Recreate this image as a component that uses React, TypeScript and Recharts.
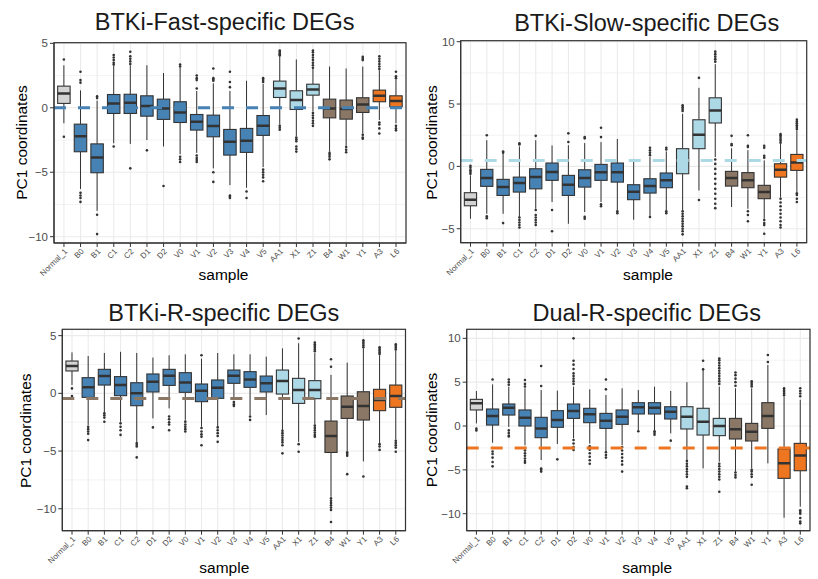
import React from 'react';
import { ComposedChart, Bar, XAxis, YAxis, CartesianGrid, ReferenceLine } from 'recharts';

// ---------- categories ----------
const samples = ['Normal_1', 'B0', 'B1', 'C1', 'C2', 'D1', 'D2', 'V0', 'V1', 'V2', 'V3', 'V4', 'V5', 'AA1', 'X1', 'Z1', 'B4', 'W1', 'Y1', 'A3', 'L6'];
const groups = ['normal', 'fast', 'fast', 'fast', 'fast', 'fast', 'fast', 'fast', 'fast', 'fast', 'fast', 'fast', 'fast', 'slow', 'slow', 'slow', 'r', 'r', 'r', 'dual', 'dual'];
const groupColors: Record<string, string> = { normal: '#D3D3D3', fast: '#4682B4', slow: '#ADD8E6', r: '#8B7765', dual: '#EE7621' };

// ---------- BTKi-Fast-specific DEGs ----------
const fastLo = [-1.2, -6.3, -8.0, -2.75, -2.8, -2.5, -3.0, -3.6, -3.5, -4.7, -6.0, -6.2, -4.6, -1.3, -2.2, -0.3, -3.4, -2.95, -2.0, -0.95, -1.2];
const fastQ1 = [0.34, -3.41, -5.04, -0.44, -0.44, -0.65, -0.9, -1.14, -1.73, -2.25, -3.67, -3.46, -2.14, 0.8, -0.13, 0.98, -0.78, -0.88, -0.36, 0.47, 0.08];
const fastMed = [1.11, -2.2, -3.85, 0.34, 0.39, 0.13, -0.05, -0.36, -1.09, -1.42, -2.64, -2.56, -1.4, 1.5, 0.6, 1.42, -0.05, -0.1, 0.26, 0.93, 0.52];
const fastQ3 = [1.68, -1.27, -2.8, 1.03, 1.05, 0.93, 0.67, 0.47, -0.52, -0.57, -1.68, -1.6, -0.6, 2.07, 1.32, 1.83, 0.67, 0.6, 0.78, 1.37, 0.93];
const fastHi = [3.3, 1.35, 0.55, 3.25, 3.3, 3.3, 2.7, 3.1, 1.3, 1.9, 1.3, 2.1, 1.85, 3.95, 3.75, 3.0, 3.2, 3.05, 3.2, 2.9, 2.2];
const fastOut = [
  [3.75, -2.25], [2.8, 2.15, 1.95, -6.6, -6.8, -7.0, -7.3], [0.9, 0.75, -8.3, -9.8], [3.35, 3.5, 3.7, 3.9, 4.1, -3.0],
  [3.4, 3.6, 3.8, 4.0, 4.35, -4.7], [-3.3], [-6.07], [3.2, 3.35, -3.8, -4.0, -4.2],
  [1.5, 2.15, 2.3, 2.5, -3.7, -3.9, -4.05, -4.2], [2.1, 2.2, 2.3, 3.05, -5.0, -5.75], [1.6, 2.0, 2.8, -6.8, -6.9, -7.0], [-6.5, -7.0],
  [2.0, 2.15, 2.3, -4.8, -5.0, -5.2, -5.4, -5.7], [4.05, 4.15, 4.25, 4.35, 4.45, -1.4, -1.55, -1.7], [-2.3, -2.45, -2.6, -3.0, -3.2, -3.4],
  [3.1, 3.3, 3.5, 3.7, 3.9, 4.1, 4.3, 4.45, -0.4, -0.6, -0.8, -1.0, -1.2, -1.4], [-3.5, -3.65, -3.8, -4.0], [-3.05, -3.25, -3.45],
  [3.7, 3.8, 3.95, -2.1, -2.3, -2.4], [3.0, 3.2, 3.4, 3.6, 3.8, 4.0, -1.15, -1.3, -1.6, -2.0], [2.3, 2.45, 2.8, -1.4, -1.6, -1.75],
];
const fastTicks = [5, 0, -5, -10];
const fastMinor = [2.5, -2.5, -7.5];
const fastDomain = [-10.49, 5.05];
const fastRef = 0;

// ---------- BTKi-Slow-specific DEGs ----------
const slowLo = [-4.2, -3.8, -3.8, -4.06, -3.4, -2.86, -4.6, -3.66, -2.86, -3.5, -4.28, -3.93, -3.5, -3.5, -1.93, 0.75, -3.26, -3.4, -4.2, -2.5, -2.05];
const slowQ1 = [-3.16, -1.6, -2.33, -2.06, -1.8, -1.12, -2.33, -1.66, -1.12, -1.26, -2.67, -2.14, -1.71, -0.59, 1.42, 3.48, -1.58, -1.71, -2.59, -0.86, -0.32];
const slowMed = [-2.67, -0.94, -1.66, -1.34, -0.86, -0.45, -1.47, -0.94, -0.48, -0.48, -2.03, -1.58, -1.12, 0.48, 2.54, 4.49, -0.94, -1.12, -2.06, -0.27, 0.32];
const slowQ3 = [-2.11, -0.24, -1.04, -0.86, -0.19, 0.27, -0.72, -0.27, 0.16, 0.27, -1.47, -0.99, -0.53, 1.42, 3.74, 5.5, -0.4, -0.5, -1.52, 0.21, 0.96];
const slowHi = [-0.72, 2.1, 1.0, 1.6, 2.1, 1.68, 1.7, 1.87, 1.95, 2.2, 0.6, 0.75, 1.2, 4.22, 6.3, 8.2, 1.45, 1.3, 0.48, 1.8, 2.9];
const slowOut = [
  [-0.6, -0.45, -0.3, -0.1, 0.05], [2.5, -4.0, -4.15], [1.1, 1.2, -4.55], [1.75, 1.85, -4.1, -4.3, -4.5, -4.7, -4.9],
  [2.45, -3.5, -3.9, -4.1, -4.3, -4.5, -4.7], [-3.5, -5.2], [1.95, 2.65], [2.25, 2.35, -4.05, -4.2],
  [2.35, 3.1, -3.05, -3.2], [-3.6, -3.75], [], [0.9, 1.1, 1.3, 1.5, -4.05], [1.35, 1.5, -3.6, -3.75],
  [4.45, 4.6, 4.75, 4.9, -3.6, -3.8, -4.0, -4.2, -4.4, -4.6, -4.8, -5.0, -5.2, -5.45], [7.1, -2.7],
  [8.4, 8.6, 8.8, 9.0, 9.2, 0.55, 0.2, -0.2, -0.6, -1.0, -1.4, -1.8, -2.2, -2.6, -3.0, -3.35], [1.7, 1.8, 2.45],
  [1.55, 1.65, 2.5, -3.6, -3.9, -4.4], [0.7, 0.85, 1.5, 1.65, -4.3, -4.55, -4.7, -5.4],
  [1.9, 2.05, 2.2, 2.35, 2.5, 2.6, -2.6, -2.9, -3.2, -3.5, -3.8, -4.1, -4.4, -4.7, -4.9], [3.0, 3.15, 3.3, 3.45, 3.6, 3.75, -2.15, -2.3, -2.6, -2.85],
];
const slowTicks = [10, 5, 0, -5];
const slowMinor = [7.5, 2.5, -2.5];
const slowDomain = [-6.12, 10.08];
const slowRef = 0.48;

// ---------- BTKi-R-specific DEGs ----------
const rLo = [0.72, -2.75, -1.68, -2.46, -4.2, -2.17, -1.3, -2.3, -2.9, -2.9, -0.58, -1.88, -1.88, -3.18, -4.2, -2.7, -8.96, -5.0, -5.9, -4.3, -4.0];
const rQ1 = [1.94, -0.35, 0.72, -0.2, -1.07, 0.12, 0.69, 0.09, -0.72, -0.43, 0.87, 0.52, 0.12, -0.06, -0.87, -0.46, -5.12, -2.17, -2.31, -1.5, -1.21];
const rMed = [2.37, 0.52, 1.5, 0.72, 0.0, 1.01, 1.53, 0.95, 0.23, 0.49, 1.53, 1.21, 0.87, 1.07, 0.29, 0.29, -3.7, -1.16, -1.1, -0.58, -0.23];
const rQ3 = [2.8, 1.36, 2.08, 1.45, 0.92, 1.68, 2.08, 1.79, 0.81, 1.16, 2.02, 1.88, 1.5, 2.02, 1.3, 1.1, -2.4, -0.23, 0.14, 0.35, 0.72];
const rHi = [3.55, 3.24, 3.5, 3.6, 3.5, 3.1, 3.3, 3.38, 3.0, 3.5, 3.38, 3.38, 3.18, 3.9, 4.34, 3.5, 1.6, 2.66, 3.9, 3.3, 3.7];
const rOut = [
  [0.43, -0.23], [-2.9, -3.1, -3.3, -3.5, -4.05], [-1.73, -1.9, -2.1, -2.46], [-2.6, -2.9, -3.2, -3.6],
  [-4.3, -4.45, -4.6, -5.55], [-2.95], [-2.0, -2.25, -2.5, -2.7, -3.2], [-2.45, -2.7, -2.9, -3.1, -3.3],
  [3.3, -3.0, -3.3, -3.55, -3.75, -4.5], [-2.95, -3.2, -3.45, -3.7, -4.2], [-0.75, -0.95, -1.1], [-2.0, -2.3], [],
  [-3.25, -3.45, -3.65, -3.85, -4.05, -4.25, -4.5, -5.2], [4.75, -4.4, -5.06],
  [3.65, 3.8, 3.95, 4.1, 4.25, 4.4, -2.8, -3.0, -3.2, -3.4, -3.6, -3.76], [2.3, 2.95, -9.1, -9.3, -9.5, -9.7, -9.9, -10.1, -11.15],
  [-5.1, -5.25, -5.4, -7.0], [4.0, 4.15, 4.3, 4.45, 4.6, -7.2], [3.4, 3.55, 3.7, 3.85, 4.0, -4.4, -4.6, -4.9],
  [3.8, 3.95, 4.1, 4.25, -4.1, -4.3, -4.5, -4.7, -5.06],
];
const rTicks = [5, 0, -5, -10];
const rMinor = [2.5, -2.5, -7.5];
const rDomain = [-11.9, 5.55];
const rRef = -0.45;

// ---------- Dual-R-specific DEGs ----------
const dualLo = [0.3, -1.9, -0.1, -2.2, -3.88, -2.05, -1.41, -2.0, -2.93, -2.17, -0.5, -0.46, -0.84, -3.88, -4.83, -4.07, -5.2, -4.83, -4.26, -10.46, -9.2];
const dualQ1 = [1.83, 0.11, 1.25, 0.0, -1.33, -0.15, 0.87, 0.38, -0.27, 0.19, 1.37, 1.37, 0.8, -0.34, -1.03, -1.1, -1.48, -1.71, -0.27, -5.97, -5.1];
const dualMed = [2.59, 1.14, 2.09, 0.95, -0.27, 0.68, 1.71, 1.33, 0.61, 1.06, 2.13, 2.09, 1.63, 1.06, 0.49, 0.0, -0.38, -0.65, 1.14, -4.26, -3.35];
const dualQ3 = [3.04, 1.94, 2.51, 1.83, 0.99, 1.75, 2.51, 2.02, 1.44, 1.83, 2.66, 2.66, 2.2, 2.2, 2.02, 0.87, 0.87, 0.3, 2.66, -2.62, -1.98];
const dualHi = [3.99, 4.75, 4.49, 4.3, 4.1, 4.03, 4.49, 4.18, 3.54, 4.3, 4.1, 4.49, 4.0, 5.0, 6.58, 4.49, 4.3, 4.3, 6.96, 3.35, 3.0];
const dualOut = [
  [-0.3, -0.5], [5.3, -2.9, -3.2, -3.6, -4.1, -4.6], [4.7, 5.0, 5.3, -0.5, -0.8, -1.1, -1.2],
  [4.5, 4.8, 5.25, -2.5, -2.8, -3.1, -3.4, -3.7, -4.0, -4.18], [4.56, 6.84, -4.85, -5.0, -5.2], [-3.8],
  [4.8, 5.1, 5.4, 5.7, 6.0, 6.5, 7.0, 7.45, 10.0, -1.6, -2.0, -2.4, -2.74], [-2.3, -2.7, -3.1, -3.5, -3.9, -4.3],
  [4.18, 5.3, -3.0, -3.3, -3.6], [-2.4, -2.8, -3.2, -3.6, -4.0, -4.4, -5.2], [-0.6], [-0.6, -0.8, -1.0], [-1.67],
  [-4.0, -4.3, -4.6, -4.9, -5.2, -5.5, -5.8, -6.9, -7.1], [6.46, 7.45],
  [4.8, 5.1, 5.4, 5.7, 6.0, 6.3, 6.6, 6.9, 7.2, 7.5, 7.7, -4.3, -4.6, -4.9, -5.2, -5.5, -5.8, -6.1, -7.5],
  [4.6, 5.0, 5.4, 5.8, 6.1, -5.3, -5.6, -5.86], [4.5, 4.7, 4.9, 5.1, -5.0, -5.2, -5.5, -5.8, -6.7], [7.3, 8.1],
  [3.5, 3.7, 3.9, 4.1, 4.3], [3.4, 3.7, 4.0, 4.3, -9.6, -9.8, -10.0, -10.5, -10.9, -11.1],
];
const dualTicks = [10, 5, 0, -5, -10];
const dualMinor = [7.5, 2.5, -2.5, -7.5];
const dualDomain = [-11.94, 11.03];
const dualRef = -2.5;

const titles = ['BTKi-Fast-specific DEGs', 'BTKi-Slow-specific DEGs', 'BTKi-R-specific DEGs', 'Dual-R-specific DEGs'];

// ---------- build tables ----------
const build = (lo: number[], q1: number[], med: number[], q3: number[], hi: number[], out: number[][]) =>
  samples.map((name, i) => ({ name, lo: lo[i], q1: q1[i], med: med[i], q3: q3[i], hi: hi[i], out: out[i], color: groupColors[groups[i]] }));

const panels = [
  { data: build(fastLo, fastQ1, fastMed, fastQ3, fastHi, fastOut), ticks: fastTicks, minor: fastMinor, domain: fastDomain, ref: fastRef, refColor: groupColors.fast },
  { data: build(slowLo, slowQ1, slowMed, slowQ3, slowHi, slowOut), ticks: slowTicks, minor: slowMinor, domain: slowDomain, ref: slowRef, refColor: groupColors.slow },
  { data: build(rLo, rQ1, rMed, rQ3, rHi, rOut), ticks: rTicks, minor: rMinor, domain: rDomain, ref: rRef, refColor: groupColors.r },
  { data: build(dualLo, dualQ1, dualMed, dualQ3, dualHi, dualOut), ticks: dualTicks, minor: dualMinor, domain: dualDomain, ref: dualRef, refColor: groupColors.dual },
];

// ---------- layout ----------
const layouts = [
  { cx: 0, cy: 0, x0: 54, x1: 406, y0: 42.7, y1: 243, tX: 224.7, tY: 30, yX: 26.5, yY: 142.5, xX: 223.5, xY: 280 },
  { cx: 409, cy: 0, x0: 460.7, x1: 806.7, y0: 40.7, y1: 242.7, tX: 646.7, tY: 30.5, yX: 436.7, yY: 142.5, xX: 648, xY: 279.5 },
  { cx: 0, cy: 290, x0: 62.3, x1: 405.5, y0: 329.3, y1: 530.7, tX: 223.8, tY: 320.5, yX: 31.5, yY: 430.8, xX: 224.3, xY: 573 },
  { cx: 409, cy: 290, x0: 466.7, x1: 810, y0: 329.3, y1: 530.7, tX: 646.7, tY: 321, yX: 436.7, yY: 430, xX: 647.2, xY: 573 },
];
const CW = 409;
const CH = 289;
const YW = 40;
const XH = 40;
const FONT = '"Liberation Sans", Arial, Helvetica, sans-serif';
const DARK = '#333333';
const GRID = '#EBEBEB';

const fmt = (v: number) => String(v).replace('-', '\u2212');

const applyScale = (s: any, v: number): number | undefined => {
  if (!s) return undefined;
  if (typeof s === 'function') return s(v);
  if (typeof s.map === 'function') return s.map(v);
  if (typeof s.scale === 'function') return s.scale(v);
  return undefined;
};

const XTick = (props: any) => {
  const { x, y, payload } = props;
  return (
    <text x={x} y={y} dy={5.5} transform={`rotate(-45 ${x} ${y})`} textAnchor="end" fontSize={8} fill="#4D4D4D" fontFamily={FONT}>
      {payload.value}
    </text>
  );
};

const BoxShape = (props: any) => {
  const { x, y, width, height, payload } = props;
  if (!payload || x == null || y == null) return null;
  const top = Math.min(y, y + height);
  const h = Math.abs(height);
  const span = payload.hi - payload.lo;
  const py = (v: number) => top + ((payload.hi - v) / span) * h;
  const mid = x + width / 2;
  return (
    <g>
      <line x1={mid} x2={mid} y1={py(payload.hi)} y2={py(payload.q3)} stroke={DARK} strokeWidth={1} />
      <line x1={mid} x2={mid} y1={py(payload.q1)} y2={py(payload.lo)} stroke={DARK} strokeWidth={1} />
      {payload.out.map((v: number, k: number) => (
        <circle key={k} cx={mid} cy={py(v)} r={1.3} fill={DARK} />
      ))}
      <rect x={x} y={py(payload.q3)} width={width} height={py(payload.q1) - py(payload.q3)} fill={payload.color} stroke={DARK} strokeWidth={1.1} />
      <line x1={x} x2={x + width} y1={py(payload.med)} y2={py(payload.med)} stroke={DARK} strokeWidth={2.5} />
    </g>
  );
};

const Panel = ({ idx }: { idx: number }) => {
  const p = panels[idx];
  const L = layouts[idx];
  const plotW = L.x1 - L.x0;
  const pad = plotW / 212;
  const barSize = (0.75 * plotW) / 21.2;
  const margin = {
    top: L.y0 - L.cy,
    right: L.cx + CW - L.x1,
    bottom: L.cy + CH - L.y1 - XH,
    left: L.x0 - L.cx - YW,
  };
  const minorGen = (args: any) => {
    const s = args && args.yAxis && args.yAxis.scale;
    const out: number[] = [];
    p.minor.forEach((v) => {
      const r = applyScale(s, v);
      if (typeof r === 'number' && isFinite(r)) out.push(r);
    });
    return out;
  };
  return (
    <div style={{ position: 'absolute', left: L.cx, top: L.cy, width: CW, height: CH }}>
      <ComposedChart width={CW} height={CH} data={p.data} margin={margin}>
        <CartesianGrid vertical={false} stroke={GRID} strokeWidth={0.6} horizontalCoordinatesGenerator={minorGen} />
        <CartesianGrid stroke={GRID} strokeWidth={1.1} />
        <XAxis
          dataKey="name"
          type="category"
          height={XH}
          interval={0}
          padding={{ left: pad, right: pad }}
          tick={<XTick />}
          tickSize={4}
          tickMargin={1}
          tickLine={{ stroke: DARK }}
          axisLine={{ stroke: DARK }}
        />
        <YAxis
          type="number"
          domain={p.domain}
          ticks={p.ticks}
          allowDataOverflow
          width={YW}
          tickFormatter={fmt}
          tick={{ fontSize: 11.5, fill: '#4D4D4D', fontFamily: FONT }}
          tickSize={4}
          tickMargin={2}
          tickLine={{ stroke: DARK }}
          axisLine={{ stroke: DARK }}
        />
        <Bar dataKey={(d: any) => [d.lo, d.hi]} barSize={barSize} shape={<BoxShape />} isAnimationActive={false} />
        <ReferenceLine y={p.ref} stroke={p.refColor} strokeWidth={3} strokeDasharray="12 12" />
      </ComposedChart>
    </div>
  );
};

export default function App() {
  return (
    <div style={{ position: 'absolute', left: 0, top: 0, width: 818, height: 579, background: '#ffffff', fontFamily: FONT }}>
      {[0, 1, 2, 3].map((i) => (
        <Panel key={i} idx={i} />
      ))}
      <svg width={818} height={579} style={{ position: 'absolute', left: 0, top: 0, pointerEvents: 'none' }}>
        {layouts.map((L, i) => (
          <g key={i} fontFamily={FONT} fill="#000000">
            <rect x={L.x0} y={L.y0} width={L.x1 - L.x0} height={L.y1 - L.y0} fill="none" stroke={DARK} strokeWidth={1.2} />
            <text x={L.tX} y={L.tY} textAnchor="middle" fontSize={23.5} fill="#1A1A1A">
              {titles[i]}
            </text>
            <text x={L.xX} y={L.xY} textAnchor="middle" fontSize={15.5}>
              sample
            </text>
            <text x={L.yX} y={L.yY} textAnchor="middle" fontSize={15.5} transform={`rotate(-90 ${L.yX} ${L.yY})`}>
              PC1 coordinates
            </text>
          </g>
        ))}
      </svg>
    </div>
  );
}
